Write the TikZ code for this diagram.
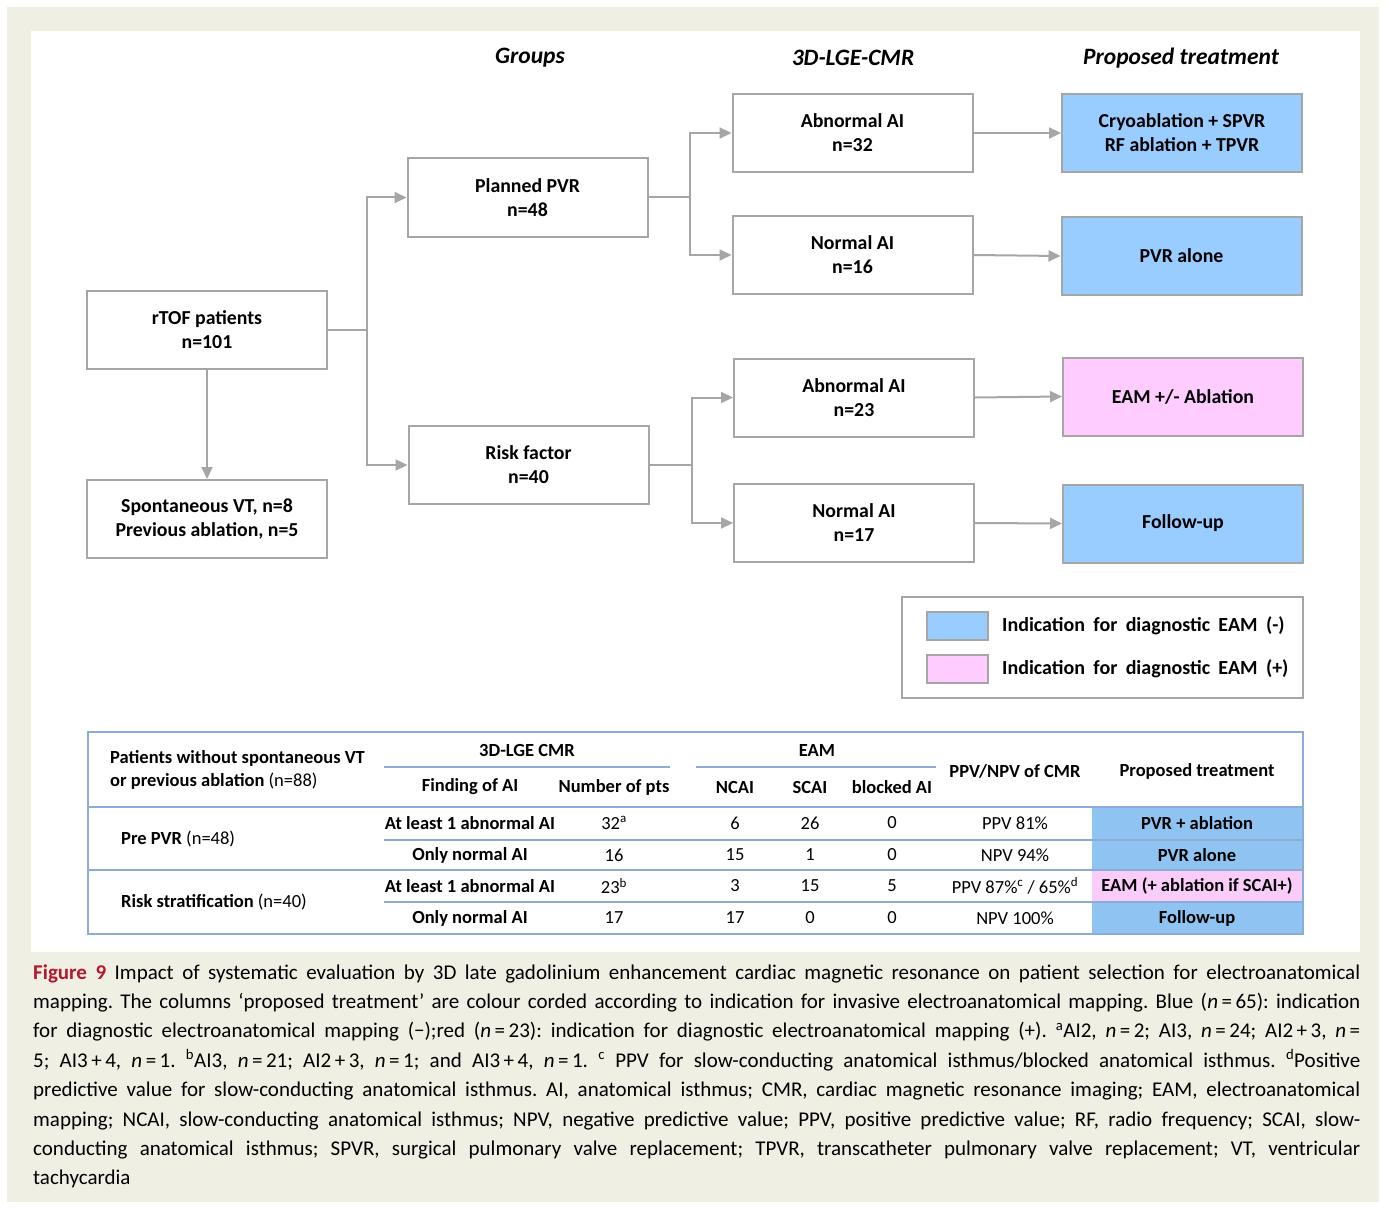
\documentclass[tikz,border=0pt]{standalone}
\usepackage{fontspec}
\setmainfont{Carlito}
\usetikzlibrary{arrows.meta}
\definecolor{bg}{RGB}{239,239,227}
\definecolor{ln}{RGB}{166,166,166}
\definecolor{bluef}{RGB}{153,204,255}
\definecolor{pinkf}{RGB}{255,204,255}
\definecolor{tblue}{RGB}{143,196,242}
\definecolor{tpink}{RGB}{250,204,250}
\definecolor{tline}{RGB}{140,172,215}
\definecolor{figred}{RGB}{178,24,46}
\newcommand\legspacing{\spaceskip=0.42em\relax}
\begin{document}
\begin{tikzpicture}[x=1pt,y=-1pt,
  box/.style={draw=ln, line width=2pt, minimum width=240pt, minimum height=78pt, align=center, font=\fontsize{19.8}{24}\selectfont\bfseries, inner sep=2pt},
  bbox/.style={box, fill=bluef},
  pbox/.style={box, fill=pinkf},
  conn/.style={draw=ln, line width=2pt},
  arr/.style={conn, -{Triangle[length=12pt,width=11pt]}},
  hdr/.style={font=\fontsize{23.5}{26}\selectfont\bfseries\itshape},
  tt/.style={font=\fontsize{18.5}{22}\selectfont, inner sep=0pt},
  ttb/.style={font=\fontsize{18.5}{22}\selectfont\bfseries, inner sep=0pt},
  tl/.style={draw=tline, line width=1.5pt},
  sw/.style={draw=ln, line width=1.5pt, minimum width=61pt, minimum height=28pt, inner sep=0pt},
  legt/.style={anchor=west, inner sep=0pt, font=\fontsize{20}{24}\selectfont\bfseries\legspacing}
]
\useasboundingbox (0,0) rectangle (1386,1209);
\fill[white] (0,0) rectangle (1386,1209);
\fill[bg] (7,7) rectangle (1379,1202);
\fill[white] (31,31) rectangle (1360,952);

% column headers
\node[hdr] (hg) at (530,58) {Groups};
\node[hdr] (hc) at (853,58) {3D-LGE-CMR};
\node[hdr] (ht) at (1181,58) {Proposed treatment};

% boxes
\node[box] (rtof) at (207,330) {rTOF patients\\n=101};
\node[box] (spont) at (207,519) {Spontaneous VT, n=8\\Previous ablation, n=5};
\node[box] (planned) at (527.5,197.5) {Planned PVR\\n=48};
\node[box] (risk) at (528.5,465) {Risk factor\\n=40};
\node[box] (ab32) at (852.5,133) {Abnormal AI\\n=32};
\node[box] (no16) at (852.5,255) {Normal AI\\n=16};
\node[box] (ab23) at (854,397.5) {Abnormal AI\\n=23};
\node[box] (no17) at (854,523) {Normal AI\\n=17};
\node[bbox] (cryo) at (1182,133) {Cryoablation + SPVR\\RF ablation + TPVR};
\node[bbox] (pvr) at (1181.5,256) {PVR alone};
\node[pbox] (eam) at (1183,396.5) {EAM +/- Ablation};
\node[bbox] (fu) at (1183,523.5) {Follow-up};

% connectors
\coordinate (b1) at (367,330);
\coordinate (b2) at (690,197.5);
\coordinate (b3) at (692,465);
\draw[conn] (rtof.east) -- (b1);
\draw[arr] (b1) |- (planned.west);
\draw[arr] (b1) |- (risk.west);
\draw[arr] (rtof.south) -- (spont.north);
\draw[conn] (planned.east) -- (b2);
\draw[arr] (b2) |- (ab32.west);
\draw[arr] (b2) |- (no16.west);
\draw[conn] (risk.east) -- (b3);
\draw[arr] (b3) |- (ab23.west);
\draw[arr] (b3) |- (no17.west);
\draw[arr] (ab32.east) -- (cryo.west);
\draw[arr] (no16.east) -- (pvr.west);
\draw[arr] (ab23.east) -- (eam.west);
\draw[arr] (no17.east) -- (fu.west);

% legend
\node[draw=ln, line width=1.5pt, minimum width=401pt, minimum height=101pt] (leg) at (1102.5,647.5) {};
\node[sw, fill=bluef] (sw1) at (957.5,626) {};
\node[sw, fill=pinkf] (sw2) at (957.5,669) {};
\node[legt] (lt1) at (1002,626) {Indication for diagnostic EAM (-)};
\node[legt] (lt2) at (1002,669) {Indication for diagnostic EAM (+)};

% table
\fill[tblue] (1092,807) rectangle (1303,870);
\fill[tpink] (1092,870) rectangle (1303,902);
\fill[tblue] (1092,902) rectangle (1303,934);
\draw[tl] (88,732) rectangle (1303,934);
\draw[tl] (384,767) -- (670,767);
\draw[tl] (696,767) -- (936,767);
\draw[tl] (88,807) -- (1303,807);
\draw[tl] (384,840) -- (1303,840);
\draw[tl] (88,870) -- (1303,870);
\draw[tl] (384,902) -- (1303,902);

\node[ttb, anchor=west] (p1) at (110,758) {Patients without spontaneous VT};
\node[ttb, anchor=west] (p2) at (110,781) {or previous ablation \mdseries(n=88)};
\node[ttb] (h3d) at (527,750) {3D-LGE CMR};
\node[ttb] (heam) at (817,750) {EAM};
\node[ttb] (hf) at (470,787) {Finding of AI};
\node[ttb] (hn) at (614,787) {Number of pts};
\node[ttb] (hnc) at (735,787) {NCAI};
\node[ttb] (hsc) at (810,787) {SCAI};
\node[ttb] (hbl) at (892,787) {blocked AI};
\node[ttb] (hpp) at (1015,771) {PPV/NPV of CMR};
\node[ttb] (hpt) at (1197,771) {Proposed treatment};

\node[ttb, anchor=west] (g1) at (121,839) {Pre PVR \mdseries(n=48)};
\node[ttb, anchor=west] (g2) at (121,902) {Risk stratification \mdseries(n=40)};

\node[ttb] (r1a) at (470,823) {At least 1 abnormal AI};
\node[tt] (r1b) at (614,823) {32\textsuperscript{a}};
\node[tt] (r1c) at (735,823) {6};
\node[tt] (r1d) at (810,823) {26};
\node[tt] (r1e) at (892,823) {0};
\node[tt] (r1f) at (1015,823) {PPV 81\%};
\node[ttb] (r1g) at (1197,823) {PVR + ablation};

\node[ttb] (r2a) at (470,855) {Only normal AI};
\node[tt] (r2b) at (614,855) {16};
\node[tt] (r2c) at (735,855) {15};
\node[tt] (r2d) at (810,855) {1};
\node[tt] (r2e) at (892,855) {0};
\node[tt] (r2f) at (1015,855) {NPV 94\%};
\node[ttb] (r2g) at (1197,855) {PVR alone};

\node[ttb] (r3a) at (470,886) {At least 1 abnormal AI};
\node[tt] (r3b) at (614,886) {23\textsuperscript{b}};
\node[tt] (r3c) at (735,886) {3};
\node[tt] (r3d) at (810,886) {15};
\node[tt] (r3e) at (892,886) {5};
\node[tt] (r3f) at (1015,886) {PPV 87\%\textsuperscript{c} / 65\%\textsuperscript{d}};
\node[ttb] (r3g) at (1197,886) {EAM (+ ablation if SCAI+)};

\node[ttb] (r4a) at (470,918) {Only normal AI};
\node[tt] (r4b) at (614,918) {17};
\node[tt] (r4c) at (735,918) {17};
\node[tt] (r4d) at (810,918) {0};
\node[tt] (r4e) at (892,918) {0};
\node[tt] (r4f) at (1015,918) {NPV 100\%};
\node[ttb] (r4g) at (1197,918) {Follow-up};

% caption
\node[anchor=base west, inner sep=0pt] (cap) at (33,979) {\begin{minipage}[t]{1327pt}\fontsize{21}{29.4}\selectfont\baselineskip=29.4pt\parindent=0pt\frenchspacing
\hbox to\hsize{{\color{figred}\bfseries Figure 9} Impact of systematic evaluation by 3D late gadolinium enhancement cardiac magnetic resonance on patient selection for electroanatomical}
\hbox to\hsize{mapping. The columns ‘proposed treatment’ are colour corded according to indication for invasive electroanatomical mapping. Blue (\textit{n}\,=\,65): indication}
\hbox to\hsize{for diagnostic electroanatomical mapping (−);red (\textit{n}\,=\,23): indication for diagnostic electroanatomical mapping (+). \textsuperscript{a}AI2, \textit{n}\,=\,2; AI3, \textit{n}\,=\,24; AI2\,+\,3, \textit{n}\,=}
\hbox to\hsize{5; AI3\,+\,4, \textit{n}\,=\,1. \textsuperscript{b}AI3, \textit{n}\,=\,21; AI2\,+\,3, \textit{n}\,=\,1; and AI3\,+\,4, \textit{n}\,=\,1. \textsuperscript{c} PPV for slow-conducting anatomical isthmus/blocked anatomical isthmus. \textsuperscript{d}Positive}
\hbox to\hsize{predictive value for slow-conducting anatomical isthmus. AI, anatomical isthmus; CMR, cardiac magnetic resonance imaging; EAM, electroanatomical}
\hbox to\hsize{mapping; NCAI, slow-conducting anatomical isthmus; NPV, negative predictive value; PPV, positive predictive value; RF, radio frequency; SCAI, slow-}
\hbox to\hsize{conducting anatomical isthmus; SPVR, surgical pulmonary valve replacement; TPVR, transcatheter pulmonary valve replacement; VT, ventricular}
\hbox{tachycardia}
\end{minipage}};
\end{tikzpicture}
\end{document}
